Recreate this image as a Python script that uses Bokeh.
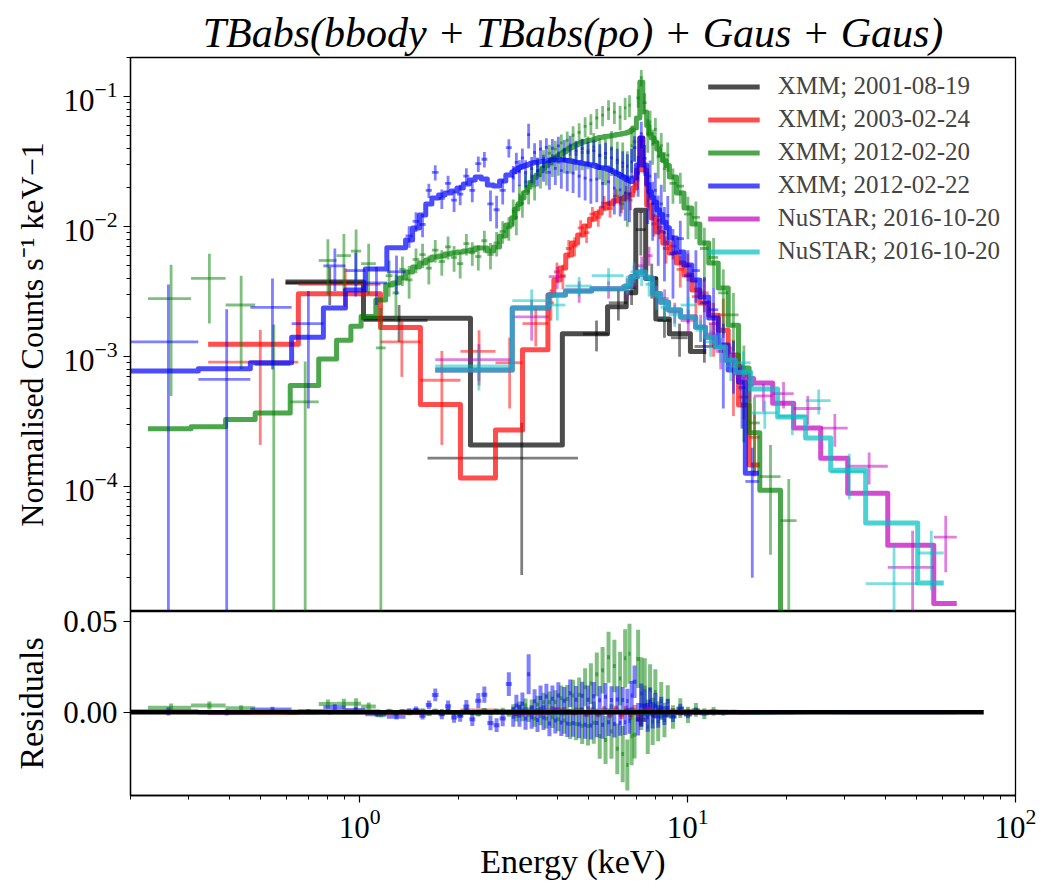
import numpy as np
from bokeh.plotting import figure
from bokeh.layouts import column
from bokeh.models import Range1d, Legend, LegendItem, FixedTicker, NumeralTickFormatter
from bokeh.embed import file_html
from bokeh.resources import INLINE

SERIF = "Liberation Serif"

# Axis spans
energy_range = (0.2, 100.0)          # keV
rate_range = (1.1e-5, 0.2)           # normalised counts s^-1 keV^-1
resid_range = (-0.0458, 0.0555)
zero_line_energy = [0.2, 80.0]

title_text = "TBabs(bbody + TBabs(po) + Gaus + Gaus)"
labels = ["XMM; 2001-08-19", "XMM; 2003-02-24", "XMM; 2012-02-20",
          "XMM; 2012-02-22", "NuSTAR; 2016-10-20", "NuSTAR; 2016-10-20"]
colors = ["black", "red", "green", "blue", "#bf00bf", "#00bfbf"]

# ---------------- XMM 2001-08-19 ----------------
xmm01_model_edges = [0.594, 1.027, 2.177, 4.15, 5.7, 6.5, 6.95, 7.45, 8.0, 8.8, 10.2, 11.4]
xmm01_model = [0.00375, 0.00198, 0.00021, 0.0015, 0.00242, 0.0031, 0.0134, 0.0040,
               0.00195, 0.0015, 0.0011]
xmm01_lo = [0.594, 1.027, 1.61, 4.8, 5.75, 6.55, 6.95, 7.45, 8.1, 8.9, 10.5]
xmm01_hi = [1.027, 1.61, 4.63, 5.75, 6.55, 6.95, 7.45, 8.1, 8.9, 10.0, 12.0]
xmm01_rate = [0.0037, 0.0019, 0.000166, 0.0015, 0.0026, 0.0034, 0.0095, 0.0040,
              0.0019, 0.0014, 0.0012]
xmm01_err = [0.0012, 0.0006, 0.000145, 0.0004, 0.0007, 0.0009, 0.0035, 0.0012,
             0.0005, 0.0004, 0.0003]

# ---------------- XMM 2003-02-24 ----------------
xmm03_edges = [0.345, 0.65, 1.157, 1.532, 2.029, 2.595, 3.137,
               3.75, 3.91, 4.08, 4.25, 4.43, 4.62, 4.82, 5.02, 5.23, 5.45,
               5.68, 5.92, 6.17, 6.40, 6.60, 6.80, 6.98, 7.15, 7.30, 7.50,
               7.75, 8.05, 8.40, 8.80, 9.25, 9.75, 10.3, 10.9, 11.6, 12.4,
               13.3, 14.3, 15.4, 16.6]
xmm03_model = [0.00125, 0.00305, 0.00168, 0.00043, 0.000117, 0.000273, 0.00113,
               0.00298, 0.00389, 0.00481, 0.00606, 0.00749, 0.00864, 0.01012, 0.01146,
               0.0127, 0.0139, 0.01495, 0.0158, 0.01633, 0.01692, 0.01753, 0.01984,
               0.0273, 0.0481, 0.0273, 0.01468, 0.01166, 0.0091, 0.00749, 0.00628,
               0.00526, 0.00425, 0.00326, 0.00259, 0.00209, 0.0016, 0.00103,
               0.000425, 0.000147]
xmm03_rate = [0.00091, 0.0036, 0.0013, 0.00066, 0.0011, 0.0009, 0.0018,
              0.0026, 0.0045, 0.0042, 0.0068, 0.0071, 0.0098, 0.0090, 0.0125,
              0.0118, 0.0152, 0.0138, 0.0172, 0.0150, 0.0181, 0.0160, 0.0210,
              0.0255, 0.0450, 0.0290, 0.0158, 0.0105, 0.0099, 0.0068, 0.0071,
              0.0047, 0.0050, 0.0029, 0.0031, 0.0018, 0.0021, 0.00085,
              0.00049, 0.00024]
xmm03_err = [0.0007, 0.0012, 0.0006, 0.00045, 0.0005, 0.0005, 0.0006,
             0.0007, 0.0008, 0.0009, 0.0011, 0.0012, 0.0014, 0.0015, 0.0017,
             0.0018, 0.0020, 0.0021, 0.0022, 0.0023, 0.0025, 0.0026, 0.0028,
             0.0032, 0.0045, 0.0033, 0.0025, 0.0021, 0.0019, 0.0016, 0.0015,
             0.0013, 0.0012, 0.0010, 0.0009, 0.0008, 0.0007, 0.0005,
             0.00016, 0.00012]

# ---------------- XMM 2012-02-20 ----------------
xmm12a_edges = [0.226, 0.306, 0.39, 0.48, 0.614, 0.75, 0.85, 0.94, 1.01, 1.12, 1.20,
                1.26, 1.32, 1.38, 1.45, 1.52, 1.59, 1.66, 1.74, 1.82, 1.90,
                1.98, 2.07, 2.16, 2.25, 2.35, 2.45, 2.56, 2.67, 2.79,
                2.91, 2.97, 3.04, 3.10, 3.17, 3.24, 3.31, 3.38, 3.45, 3.52,
                3.60, 3.67, 3.75, 3.83, 3.91, 3.99, 4.08, 4.16, 4.25, 4.34,
                4.43, 4.52, 4.62, 4.72, 4.82, 4.92, 5.02, 5.12, 5.23, 5.34,
                5.45, 5.56, 5.68, 5.80, 5.92, 6.04, 6.17, 6.28, 6.40, 6.50,
                6.60, 6.70, 6.80,
                6.98, 7.15, 7.30, 7.50,
                7.62, 7.75, 7.90, 8.05, 8.22, 8.40, 8.60, 8.80,
                9.25, 9.75, 10.3, 10.9, 11.6, 12.4, 13.3, 14.3, 15.4, 16.6, 19.2, 21.5]
xmm12a_model = [0.00028, 0.00029, 0.00033, 0.00037, 0.0006, 0.00096, 0.00134, 0.00172,
                0.00204, 0.00273,
                0.00356, 0.00369, 0.00403, 0.00448, 0.0049, 0.00526, 0.00554, 0.00584,
                0.00595, 0.00617,
                0.00628, 0.00639, 0.0065, 0.00662, 0.00686, 0.00686, 0.0065, 0.00698,
                0.00848, 0.0103,
                0.0117, 0.0137, 0.0150, 0.0166, 0.0183, 0.0201, 0.0219, 0.0239,
                0.0250, 0.0268, 0.0280, 0.0296, 0.0312, 0.0328, 0.0338, 0.0350,
                0.0363, 0.0375, 0.0389, 0.0403, 0.0412, 0.0424, 0.0434, 0.0446,
                0.0452, 0.0460, 0.0462, 0.0467, 0.0476, 0.0486, 0.0488, 0.0493,
                0.0497, 0.0501, 0.0505, 0.0511, 0.0514, 0.0520, 0.0523, 0.0530,
                0.0538, 0.0552,
                0.0574, 0.0686, 0.1297, 0.0763,
                0.0600, 0.0515, 0.0480, 0.0448, 0.0395, 0.0358, 0.0322, 0.0296,
                0.0241, 0.0182, 0.0139, 0.0105, 0.0075, 0.00526, 0.00338, 0.00175,
                0.00082, 0.00026, 0.0000943, 0.000003]
xmm12a_rate = [0.0028, 0.0040, 0.0025, 0.00087, 0.00045, 0.0055, 0.0060, 0.0065,
               0.0052, 0.00117,
               0.0042, 0.0031, 0.0047, 0.0039, 0.0056, 0.0061, 0.0048, 0.0066,
               0.0054, 0.0070,
               0.0058, 0.0052, 0.0074, 0.0063, 0.0059, 0.0078, 0.0061, 0.0075,
               0.0092, 0.0098,
               0.0132, 0.0118, 0.0176, 0.0152, 0.0221, 0.0188, 0.0246, 0.0205,
               0.0293, 0.0247, 0.0335, 0.0262, 0.0368, 0.0301, 0.0395, 0.0312,
               0.0441, 0.0330, 0.0462, 0.0338, 0.0505, 0.0360, 0.0530, 0.0372,
               0.0590, 0.0385, 0.0620, 0.0410, 0.0685, 0.0355, 0.0720, 0.0340,
               0.0800, 0.0395, 0.0760, 0.0310, 0.0700, 0.0290, 0.0820, 0.0240,
               0.0860, 0.0420,
               0.0450, 0.0980, 0.1400, 0.0900,
               0.0520, 0.0640, 0.0430, 0.0560, 0.0345, 0.0420, 0.0280, 0.0355,
               0.0215, 0.0205, 0.0125, 0.0118, 0.0068, 0.0058, 0.0031, 0.0021,
               0.00072, 0.00031, 0.00012, 0.000055]
xmm12a_err = [0.0023, 0.0022, 0.0017, 0.0009, 0.00047, 0.0025, 0.0028, 0.0030,
              0.0022, 0.0012,
              0.0013, 0.0012, 0.0012, 0.0011, 0.0012, 0.0013, 0.0012, 0.0013,
              0.0012, 0.0014,
              0.0013, 0.0012, 0.0014, 0.0013, 0.0013, 0.0015, 0.0014, 0.0016,
              0.0018, 0.0020,
              0.0030, 0.0032, 0.0034, 0.0035, 0.0038, 0.0040, 0.0044, 0.0046,
              0.0048, 0.0050, 0.0053, 0.0055, 0.0058, 0.0060, 0.0064, 0.0066,
              0.0070, 0.0073, 0.0078, 0.0082, 0.0086, 0.0090, 0.0095, 0.0100,
              0.0104, 0.0108, 0.0112, 0.0116, 0.0120, 0.0124, 0.0128, 0.0132,
              0.0140, 0.0150, 0.0145, 0.0140, 0.0148, 0.0155, 0.0160, 0.0140,
              0.0165, 0.0160,
              0.0130, 0.0160, 0.0200, 0.0160,
              0.0150, 0.0140, 0.0130, 0.0125, 0.0110, 0.0105, 0.0095, 0.0090,
              0.0065, 0.0055, 0.0045, 0.0038, 0.0030, 0.0024, 0.0016, 0.0010,
              0.0005, 0.00018, 0.00009, 0.00006]

# ---------------- XMM 2012-02-22 ----------------
xmm12b_edges = [0.20, 0.322, 0.464, 0.62, 0.775, 0.905, 1.04, 1.21,
                1.38, 1.45, 1.52, 1.59, 1.66, 1.74, 1.82, 1.90, 1.98, 2.07,
                2.16, 2.25, 2.35, 2.45, 2.56, 2.67, 2.79,
                2.91, 2.97, 3.04, 3.10, 3.17, 3.24, 3.31, 3.38, 3.45, 3.52,
                3.60, 3.67, 3.75, 3.83, 3.91, 3.99, 4.08, 4.16, 4.25, 4.34,
                4.43, 4.52, 4.62, 4.72, 4.82, 4.92, 5.02, 5.12, 5.23, 5.34,
                5.45, 5.56, 5.68, 5.80, 5.92, 6.04, 6.17, 6.28, 6.40, 6.50,
                6.60, 6.70, 6.80,
                6.98, 7.15, 7.30, 7.50,
                7.62, 7.75, 7.90, 8.05, 8.22, 8.40, 8.60, 8.80,
                9.25, 9.75, 10.3, 10.9, 11.6, 12.4, 13.3, 14.3, 15.0, 16.5]
xmm12b_model = [0.000776, 0.00081, 0.0009, 0.00141, 0.00237, 0.00326, 0.00474, 0.0069,
                0.0079, 0.00977, 0.0123, 0.01495, 0.01663, 0.01753, 0.01816, 0.01881,
                0.01984, 0.0213, 0.02287, 0.02412, 0.02328, 0.02093, 0.02056, 0.02247,
                0.02498,
                0.0263, 0.0274, 0.0284, 0.0291, 0.0296, 0.0301, 0.0307, 0.0311,
                0.0313, 0.0316, 0.0319, 0.0321, 0.0324, 0.0326, 0.0326, 0.0326,
                0.0326, 0.0326, 0.0323, 0.0320, 0.0317, 0.0313, 0.0311, 0.0307,
                0.0305, 0.0302, 0.0300, 0.0296, 0.0291, 0.0285, 0.0284, 0.0281,
                0.0276, 0.0270, 0.0263, 0.0255, 0.0249, 0.0242, 0.0236, 0.0230,
                0.0226, 0.0223,
                0.02369, 0.02982, 0.04812, 0.02982,
                0.0212, 0.0186, 0.0167, 0.0154, 0.0135, 0.0124, 0.0108, 0.0098,
                0.00818, 0.00639, 0.00507, 0.00389, 0.00288, 0.00199, 0.00123, 0.00079,
                0.000639, 0.000127]
xmm12b_rate = [0.0013, 0.00067, 0.0024, 0.0018, 0.0050, 0.0046, 0.0037, 0.0045,
               0.0085, 0.0110, 0.0104, 0.0190, 0.0262, 0.0165, 0.0215, 0.0160,
               0.0178, 0.0245, 0.0190, 0.0305, 0.0330, 0.0150, 0.0135, 0.0190,
               0.0405,
               0.0238, 0.0312, 0.0265, 0.0338, 0.0262, 0.0510, 0.0280, 0.0372,
               0.0270, 0.0395, 0.0290, 0.0408, 0.0262, 0.0401, 0.0281, 0.0418,
               0.0270, 0.0390, 0.0262, 0.0425, 0.0258, 0.0382, 0.0245, 0.0398,
               0.0236, 0.0371, 0.0228, 0.0385, 0.0232, 0.0352, 0.0215, 0.0366,
               0.0221, 0.0338, 0.0198, 0.0325, 0.0192, 0.0310, 0.0181, 0.0292,
               0.0178, 0.0315,
               0.0405, 0.0260, 0.0520, 0.0335,
               0.0185, 0.0245, 0.0150, 0.0190, 0.0112, 0.0150, 0.0090, 0.0122,
               0.0062, 0.0081, 0.0042, 0.0046, 0.0026, 0.0023, 0.0011, 0.00092,
               0.00058, 0.00011]
xmm12b_err = [0.0023, 0.00165, 0.0016, 0.0014, 0.0018, 0.0017, 0.0012, 0.0015,
              0.0016, 0.0019, 0.0021, 0.0024, 0.0035, 0.0028, 0.0032, 0.0030,
              0.0032, 0.0036, 0.0036, 0.0042, 0.0045, 0.0040, 0.0038, 0.0042,
              0.0065,
              0.0055, 0.0058, 0.0060, 0.0062, 0.0062, 0.0110, 0.0064, 0.0066,
              0.0066, 0.0068, 0.0068, 0.0070, 0.0070, 0.0072, 0.0072, 0.0074,
              0.0074, 0.0075, 0.0075, 0.0076, 0.0076, 0.0076, 0.0077, 0.0077,
              0.0077, 0.0078, 0.0078, 0.0078, 0.0078, 0.0078, 0.0077, 0.0077,
              0.0076, 0.0075, 0.0074, 0.0073, 0.0072, 0.0071, 0.0070, 0.0068,
              0.0070, 0.0080,
              0.0090, 0.0090, 0.0120, 0.0090,
              0.0080, 0.0078, 0.0072, 0.0070, 0.0062, 0.0060, 0.0052, 0.0050,
              0.0034, 0.0030, 0.0024, 0.0020, 0.0015, 0.0011, 0.0007, 0.0004,
              0.0003, 0.00009]

# ---------------- NuSTAR 2016-10-20 (FPMA) ----------------
nuA_edges = [1.70, 2.92, 3.77, 4.24, 5.10, 6.38, 6.70, 7.04, 7.44, 7.82, 8.27,
             8.75, 9.52, 10.58, 11.34, 12.17, 13.06, 14.01, 15.03, 15.90, 18.17,
             21.06, 25.46, 30.78, 40.78, 56.33, 66.2]
nuA_model = [0.00079, 0.00237, 0.00298, 0.0032, 0.00333, 0.00345, 0.00413, 0.00448,
             0.00403, 0.00307, 0.00263, 0.00229, 0.00202, 0.00169, 0.00141, 0.00119,
             0.00094, 0.00075, 0.00068, 0.000628, 0.00044, 0.000283, 0.000166,
             0.0000894, 0.0000356, 0.0000127]
nuA_rate = [0.00095, 0.00203, 0.00413, 0.0032, 0.0033, 0.0034, 0.0042, 0.0050,
            0.0060, 0.0030, 0.0028, 0.0022, 0.0019, 0.0017, 0.0015, 0.0011,
            0.0010, 0.0007, 0.0006, 0.0005, 0.00052, 0.00040, 0.000283,
            0.000144, 0.000024, 0.000041]
nuA_err = [0.0003, 0.0007, 0.0008, 0.0006, 0.0005, 0.0006, 0.0008, 0.0009,
           0.0010, 0.0006, 0.0005, 0.0004, 0.0004, 0.0004, 0.0003, 0.0003,
           0.0002, 0.00015, 0.00015, 0.00012, 0.00012, 0.0001, 0.00008,
           0.00004, 0.000022, 0.000019]

# ---------------- NuSTAR 2016-10-20 (FPMB) ----------------
nuB_edges = [1.70, 2.92, 3.77, 4.24, 5.10, 6.38, 6.70, 7.04, 7.44, 7.82, 8.27,
             8.75, 9.52, 10.58, 11.34, 12.17, 13.06, 14.01, 15.57, 18.82, 22.91,
             27.31, 34.92, 50.32, 60.4]
nuB_model = [0.00079, 0.00237, 0.00298, 0.0032, 0.00333, 0.00345, 0.00413, 0.00448,
             0.00403, 0.00307, 0.00263, 0.00229, 0.00202, 0.00169, 0.00141, 0.00119,
             0.00094, 0.00076, 0.000564, 0.000344, 0.000237, 0.000134, 0.0000526,
             0.0000182]
nuB_rate = [0.00085, 0.0027, 0.0025, 0.0035, 0.0042, 0.0036, 0.0045, 0.0043,
            0.0036, 0.0029, 0.0024, 0.0021, 0.0025, 0.0016, 0.0013, 0.0012,
            0.00085, 0.0009, 0.00037, 0.00035, 0.00046, 0.00013, 0.000018, 0.000031]
nuB_err = [0.0003, 0.0006, 0.0006, 0.0006, 0.0006, 0.0006, 0.0008, 0.0008,
           0.0007, 0.0006, 0.0005, 0.0004, 0.0004, 0.0003, 0.0003, 0.0003,
           0.0002, 0.0002, 0.00009, 0.0001, 0.0001, 0.00005, 0.000017, 0.000015]


def binned(edges, model, rate, err, lo=None, hi=None):
    edges = np.asarray(edges, float)
    lo = edges[:-1] if lo is None else np.asarray(lo, float)
    hi = edges[1:] if hi is None else np.asarray(hi, float)
    spec = dict(edges=edges, model=np.asarray(model, float), lo=lo, hi=hi,
                rate=np.asarray(rate, float), err=np.asarray(err, float))
    assert len(spec["model"]) == len(edges) - 1
    assert len(spec["rate"]) == len(spec["err"]) == len(lo) == len(hi)
    return spec


spectra = [
    binned(xmm01_model_edges, xmm01_model, xmm01_rate, xmm01_err, xmm01_lo, xmm01_hi),
    binned(xmm03_edges, xmm03_model, xmm03_rate, xmm03_err),
    binned(xmm12a_edges, xmm12a_model, xmm12a_rate, xmm12a_err),
    binned(xmm12b_edges, xmm12b_model, xmm12b_rate, xmm12b_err),
    binned(nuA_edges, nuA_model, nuA_rate, nuA_err),
    binned(nuB_edges, nuB_model, nuB_rate, nuB_err),
]


def model_at(edges, model, e):
    idx = np.clip(np.searchsorted(edges, e, side="right") - 1, 0, len(model) - 1)
    return model[idx]


def style_axes(p):
    p.xgrid.visible = False
    p.ygrid.visible = False
    p.outline_line_color = "black"
    p.outline_line_width = 1.3
    p.background_fill_color = "white"
    for ax in (p.xaxis[0], p.yaxis[0]):
        ax.axis_line_width = 1.3
        ax.major_tick_in = 0
        ax.major_tick_out = 7
        ax.minor_tick_in = 0
        ax.minor_tick_out = 4
        ax.major_tick_line_width = 1.2
        ax.minor_tick_line_width = 1.0
        ax.major_label_text_font = SERIF
        ax.major_label_text_font_size = "31px"
        ax.major_label_text_color = "black"
        ax.axis_label_text_font = SERIF
        ax.axis_label_text_font_style = "normal"
        ax.axis_label_text_font_size = "34px"
        ax.axis_label_text_color = "black"
        ax.major_label_standoff = 6
        ax.axis_label_standoff = 10


# ---------------- spectrum panel ----------------
top = figure(width=1052, height=611, x_axis_type="log", y_axis_type="log",
             x_range=Range1d(*energy_range), y_range=Range1d(*rate_range),
             output_backend="svg", toolbar_location=None,
             min_border_left=130, min_border_right=37, min_border_top=57,
             min_border_bottom=0)
style_axes(top)
top.border_fill_color = "white"
top.xaxis.visible = False
top.yaxis.axis_label = "Normalised Counts s\u207b\u00b9 keV\u22121"
top.yaxis.axis_label_text_font_size = "32px"
top.title.text = title_text
top.title.align = "center"
top.title.text_font = SERIF
top.title.text_font_style = "italic"
top.title.text_font_size = "42px"
top.title.text_color = "black"
top.title.standoff = 4

# ---------------- residual panel ----------------
# the canvas reaches 20 px up over the spectrum panel so the top tick label is not cut
bot = figure(width=1052, height=305, x_axis_type="log",
             x_range=top.x_range, y_range=Range1d(*resid_range),
             output_backend="svg", toolbar_location=None,
             min_border_left=130, min_border_right=37, min_border_top=20,
             min_border_bottom=101, margin=(-20, 0, 0, 0))
style_axes(bot)
bot.border_fill_color = None
bot.border_fill_alpha = 0
bot.xaxis.axis_label = "Energy (keV)"
bot.xaxis.axis_label_standoff = 2
bot.yaxis.axis_label = "Residuals"
bot.yaxis.ticker = FixedTicker(ticks=[-0.05, 0.0, 0.05], minor_ticks=[])
bot.yaxis.formatter = NumeralTickFormatter(format="0.00")

items = []
for spec, color, label in zip(spectra, colors, labels):
    lo, hi, rate, err = spec["lo"], spec["hi"], spec["rate"], spec["err"]
    mid = 0.5 * (lo + hi)
    bar = dict(line_color=color, line_alpha=0.5, line_width=2.8)
    top.segment(x0=lo, y0=rate, x1=hi, y1=rate, **bar)
    top.segment(x0=mid, y0=np.maximum(rate - err, 1e-9), x1=mid, y1=rate + err, **bar)
    edges, model = spec["edges"], spec["model"]
    r = top.step(x=edges, y=np.append(model, model[-1]), mode="after",
                 line_color=color, line_alpha=0.7, line_width=5, line_join="round")
    items.append(LegendItem(label=label, renderers=[r]))

    resid = rate - model_at(edges, model, mid)
    bbar = dict(line_color=color, line_alpha=0.5, line_width=4)
    bot.segment(x0=lo, y0=resid, x1=hi, y1=resid, **bbar)
    bot.segment(x0=mid, y0=resid - err, x1=mid, y1=resid + err, **bbar)

bot.line(x=zero_line_energy, y=[0.0, 0.0], line_color="black", line_width=4.5)

legend = Legend(items=items, location="top_right", margin=0, padding=15,
                glyph_width=52, glyph_height=27, label_height=27, label_width=218,
                label_standoff=18, spacing=5,
                label_text_font=SERIF, label_text_font_size="25px",
                background_fill_alpha=0, border_line_alpha=0)
top.add_layout(legend)

layout = column(top, bot, spacing=0)
open("out.html", "w").write(file_html(layout, INLINE))
